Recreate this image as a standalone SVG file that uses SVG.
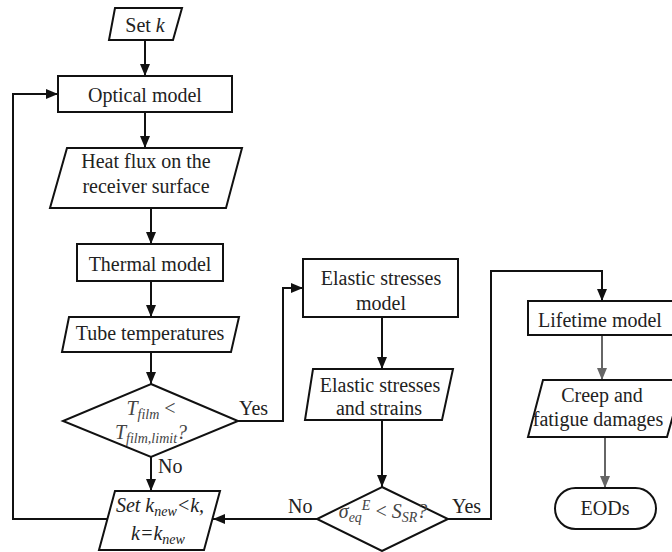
<svg xmlns="http://www.w3.org/2000/svg" width="672" height="552" viewBox="0 0 672 552" font-family="'Liberation Serif', 'Times New Roman', serif">
<defs>
<style>
.n{fill:#fff;stroke:#111;stroke-width:2}
.c{fill:none;stroke:#111;stroke-width:2}
.cg{fill:none;stroke:#666;stroke-width:2}
</style>
<marker id="a" markerUnits="userSpaceOnUse" markerWidth="12" markerHeight="10" refX="12" refY="5" orient="auto"><path d="M0,0 L12,5 L0,10 z" fill="#111"/></marker>
<marker id="ag" markerUnits="userSpaceOnUse" markerWidth="12" markerHeight="10" refX="12" refY="5" orient="auto"><path d="M0,0 L12,5 L0,10 z" fill="#666"/></marker>
</defs>
<rect width="672" height="552" fill="#fff"/>
<g id="connectors">
<path class="c" d="M145,40 V76" marker-end="url(#a)"/>
<path class="c" d="M145,112 V148" marker-end="url(#a)"/>
<path class="c" d="M151,208 V244" marker-end="url(#a)"/>
<path class="c" d="M151,281 V317" marker-end="url(#a)"/>
<path class="c" d="M151,352 V384" marker-end="url(#a)"/>
<path class="c" d="M151,457 V491" marker-end="url(#a)"/>
<path class="c" d="M238,421 H283 V288 H303" marker-end="url(#a)"/>
<path class="c" d="M382,317 V369" marker-end="url(#a)"/>
<path class="c" d="M382,420 V487" marker-end="url(#a)"/>
<path class="c" d="M317,519 H213" marker-end="url(#a)"/>
<path class="c" d="M448,519 H491 V271 H602 V301" marker-end="url(#a)"/>
<path class="cg" d="M602,335 V380" marker-end="url(#ag)"/>
<path class="cg" d="M605,437 V488" marker-end="url(#ag)"/>
<path class="c" d="M107,519 H13 V94 H58" marker-end="url(#a)"/>
<text font-family="Liberation Serif" font-size="20" fill="#222" x="239" y="415">Yes</text>
<text font-family="Liberation Serif" font-size="20" fill="#222" x="158" y="473">No</text>
<text font-family="Liberation Serif" font-size="20" fill="#222" x="288" y="513">No</text>
<text font-family="Liberation Serif" font-size="20" fill="#222" x="452" y="513">Yes</text>
</g>
<g id="setk">
<polygon class="n" points="115,8 182,8 173,40 109,40"/>
<text font-family="Liberation Serif" font-size="20" fill="#222" text-anchor="middle" x="145" y="32">Set <tspan font-style="italic">k</tspan></text>
</g>
<g id="optical">
<rect class="n" x="58" y="76" width="174" height="36"/>
<text font-family="Liberation Serif" font-size="20" fill="#222" text-anchor="middle" x="145" y="102">Optical model</text>
</g>
<g id="heatflux">
<polygon class="n" points="67,148 242,148 226,208 50,208"/>
<text font-family="Liberation Serif" font-size="20" fill="#222" text-anchor="middle" x="146" y="168">Heat flux on the</text>
<text font-family="Liberation Serif" font-size="20" fill="#222" text-anchor="middle" x="146" y="193">receiver surface</text>
</g>
<g id="thermal">
<rect class="n" x="77" y="244" width="146" height="37"/>
<text font-family="Liberation Serif" font-size="20" fill="#222" text-anchor="middle" x="150" y="271">Thermal model</text>
</g>
<g id="tube">
<polygon class="n" points="69,317 239,317 231,352 62,352"/>
<text font-family="Liberation Serif" font-size="20" fill="#222" text-anchor="middle" x="150" y="340">Tube temperatures</text>
</g>
<g id="decision1">
<polygon class="n" points="151,384 238,421 151,457 63,421"/>
<text font-family="Liberation Serif" font-size="20" fill="#444" text-anchor="middle" x="151" y="415"><tspan font-style="italic">T</tspan><tspan font-style="italic" font-size="14" dy="4">film</tspan><tspan dy="-4"> &lt;</tspan></text>
<text font-family="Liberation Serif" font-size="20" fill="#444" text-anchor="middle" x="151" y="439"><tspan font-style="italic">T</tspan><tspan font-style="italic" font-size="14" dy="4">film,limit</tspan><tspan font-style="italic" dy="-4">?</tspan></text>
</g>
<g id="setknew">
<polygon class="n" points="115,491 220,491 204,550 99,550"/>
<text font-family="Liberation Serif" font-size="20" fill="#222" font-style="italic" text-anchor="middle" x="160" y="512">Set k<tspan font-size="14" dy="4">new</tspan><tspan dy="-4">&lt;k,</tspan></text>
<text font-family="Liberation Serif" font-size="20" fill="#222" font-style="italic" text-anchor="middle" x="158" y="540">k=k<tspan font-size="14" dy="4">new</tspan></text>
</g>
<g id="elasticmodel">
<rect class="n" x="303" y="259" width="155" height="58"/>
<text font-family="Liberation Serif" font-size="20" fill="#222" text-anchor="middle" x="381" y="285">Elastic stresses</text>
<text font-family="Liberation Serif" font-size="20" fill="#222" text-anchor="middle" x="381" y="310">model</text>
</g>
<g id="elasticstrains">
<polygon class="n" points="313,369 453,369 442,420 305,420"/>
<text font-family="Liberation Serif" font-size="20" fill="#222" text-anchor="middle" x="380" y="392">Elastic stresses</text>
<text font-family="Liberation Serif" font-size="20" fill="#222" text-anchor="middle" x="379" y="415">and strains</text>
</g>
<g id="decision2">
<polygon class="n" points="382,487 448,519 382,551 317,519"/>
<text font-family="Liberation Serif" font-size="20" fill="#444" font-style="italic" text-anchor="middle" x="383" y="518">σ<tspan font-size="14" dy="4">eq</tspan><tspan font-size="14" dy="-12">E</tspan><tspan dy="8" font-style="normal"> &lt; </tspan>S<tspan font-size="14" dy="4">SR</tspan><tspan dy="-4">?</tspan></text>
</g>
<g id="lifetime">
<rect class="n" x="528" y="301" width="150" height="34"/>
<text font-family="Liberation Serif" font-size="20" fill="#222" text-anchor="middle" x="600" y="327">Lifetime model</text>
</g>
<g id="damages">
<polygon class="n" points="543,380 683,380 667,437 528,437"/>
<text font-family="Liberation Serif" font-size="20" fill="#222" text-anchor="middle" x="602" y="402">Creep and</text>
<text font-family="Liberation Serif" font-size="20" fill="#222" text-anchor="middle" x="598" y="426">fatigue damages</text>
</g>
<g id="eods">
<rect class="n" x="555" y="488" width="101" height="41" rx="20.5" ry="20.5"/>
<text font-family="Liberation Serif" font-size="20" fill="#222" text-anchor="middle" x="605" y="515">EODs</text>
</g>
</svg>
